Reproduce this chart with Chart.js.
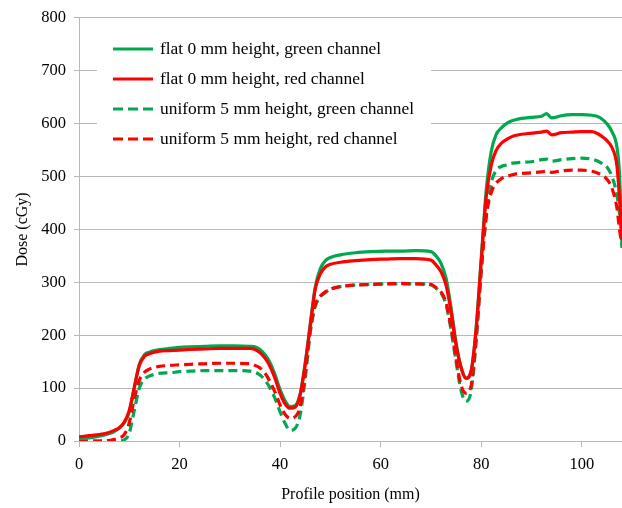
<!DOCTYPE html>
<html>
<head>
<meta charset="utf-8">
<script src="https://cdn.jsdelivr.net/npm/chart.js@4.4.1/dist/chart.umd.min.js"></script>
<style>
html,body{margin:0;padding:0;background:#fff;}
#wrap{width:622px;height:508px;position:relative;}
</style>
</head>
<body>
<div id="wrap"><canvas id="c" width="622" height="508"></canvas></div>
<script>
// Profile positions (mm)
const positions = [0,2,4,6,7,8,9,10,11,12,13,14,15,16,18,20,22,25,28,31,34,35,36,37,38,39,40,41,42,43,44,45,46,47,48,49,50,52,55,58,61,64,67,70,71,72,73,74,75,76,77,78,79,80,81,82,83,84,85,86,87,88,90,92,93,94,96,98,100,102,103,104,105,106,107,107.5,108];

// Dose (cGy) series
const flatGreen = [5,6,9,14,18,24,34,55,100,145,163,168,171,173,175,177,178,179,180,180,179,178,173,163,148,125,97,76,65,67,90,148,222,292,326,341,347,352,356,358,359,359,360,358,350,336,308,252,185,140,118,132,215,345,475,548,580,592,600,605,608,610,612,614,619,611,615,617,617,616,614,609,600,585,555,505,365];
const flatRed = [8,10,12,16,20,25,36,58,102,143,160,165,168,170,171,172,173,174,175,175,175,173,167,157,141,118,90,70,62,64,87,145,218,288,316,329,334,338,341,343,344,345,345,342,333,320,295,245,182,138,119,133,212,340,462,522,550,563,570,575,578,580,582,584,586,579,583,584,585,585,582,576,568,555,520,460,380];
const uniformGreen = [0,0,0,0,0,0,2,15,58,100,117,123,126,128,129,131,132,133,133,133,132,130,125,115,100,80,55,33,20,24,50,118,205,255,272,281,287,292,295,296,297,297,297,295,289,280,258,210,150,95,75,95,190,322,425,488,512,519,522,525,526,527,528,532,533,529,532,534,535,533,530,525,518,500,465,430,390];
const uniformRed = [0,0,0,1,3,6,12,35,80,115,130,136,139,141,143,144,145,146,147,147,146,143,138,128,112,92,68,50,43,46,65,130,210,258,274,282,287,292,295,296,297,298,297,296,290,282,262,215,155,105,90,105,195,322,425,470,488,496,500,503,505,506,507,509,510,508,511,512,512,510,507,503,495,478,440,400,370];

const seriesLabels = [
  'flat 0 mm height, green channel',
  'flat 0 mm height, red channel',
  'uniform 5 mm height, green channel',
  'uniform 5 mm height, red channel'
];
const xTickValues = [0,20,40,60,80,100];

const GREEN = '#00A84F';
const RED = '#FF0000';
const GRID = '#B8B8B8';
const SERIF = '"Liberation Serif", "Times New Roman", serif';

function pts(vals){ return positions.map((x,i)=>({x:x, y:vals[i]})); }

const insideLegend = {
  id: 'insideLegend',
  afterDatasetsDraw(chart) {
    const ctx = chart.ctx;
    const a = chart.chartArea;
    ctx.save();
    ctx.fillStyle = '#ffffff';
    ctx.fillRect(a.left + 18, a.top + 12, 334, 124);
    chart.data.datasets.forEach((ds, i) => {
      const y = a.top + 31 + i * 30;
      ctx.strokeStyle = ds.borderColor;
      ctx.lineWidth = 3;
      ctx.setLineDash(ds.borderDash ? [10,5] : []);
      ctx.beginPath();
      ctx.moveTo(a.left + 34, y);
      ctx.lineTo(a.left + 74, y);
      ctx.stroke();
      ctx.setLineDash([]);
      ctx.fillStyle = '#000';
      ctx.font = '17.4px ' + SERIF;
      ctx.textBaseline = 'middle';
      ctx.textAlign = 'left';
      ctx.fillText(ds.label, a.left + 81, y + 1);
    });
    ctx.restore();
  }
};

new Chart(document.getElementById('c'), {
  type: 'line',
  data: {
    datasets: [
      {label: seriesLabels[0], data: pts(flatGreen), borderColor: GREEN, borderWidth: 3.2, pointRadius: 0, fill: false, cubicInterpolationMode: 'monotone', order: 2},
      {label: seriesLabels[1], data: pts(flatRed), borderColor: RED, borderWidth: 3.2, pointRadius: 0, fill: false, cubicInterpolationMode: 'monotone', order: 1},
      {label: seriesLabels[2], data: pts(uniformGreen), borderColor: GREEN, borderWidth: 3.2, borderDash: [9,5], pointRadius: 0, fill: false, cubicInterpolationMode: 'monotone', order: 4},
      {label: seriesLabels[3], data: pts(uniformRed), borderColor: RED, borderWidth: 3.2, borderDash: [9,5], pointRadius: 0, fill: false, cubicInterpolationMode: 'monotone', order: 3}
    ]
  },
  options: {
    responsive: false,
    devicePixelRatio: 1,
    animation: false,
    layout: {padding: {top: 17, right: 0, left: 0, bottom: 0}},
    plugins: {legend: {display: false}, tooltip: {enabled: false}},
    scales: {
      x: {
        type: 'linear', min: 0, max: 108,
        afterBuildTicks: (s) => { s.ticks = xTickValues.map(v => ({value: v})); },
        afterFit: (s) => { s.height = 67; },
        grid: {drawOnChartArea: false, drawTicks: true, tickLength: 6, color: GRID, lineWidth: 1},
        border: {display: true, color: GRID, width: 1},
        ticks: {color: '#000', font: {family: SERIF, size: 16.5}, padding: 8, maxRotation: 0, autoSkip: false},
        title: {display: true, text: 'Profile position (mm)', color: '#000', font: {family: SERIF, size: 16}, padding: {top: 0, bottom: 4}}
      },
      y: {
        min: 0, max: 800,
        afterFit: (s) => { s.width = 79; },
        grid: {drawTicks: true, tickLength: 5, color: GRID, lineWidth: 1},
        border: {display: true, color: GRID, width: 1},
        ticks: {stepSize: 100, color: '#000', font: {family: SERIF, size: 16.5}, padding: 8},
        title: {display: true, text: 'Dose (cGy)', color: '#000', font: {family: SERIF, size: 16}, padding: {top: 13, bottom: 0}}
      }
    }
  },
  plugins: [insideLegend]
});
</script>
</body>
</html>
